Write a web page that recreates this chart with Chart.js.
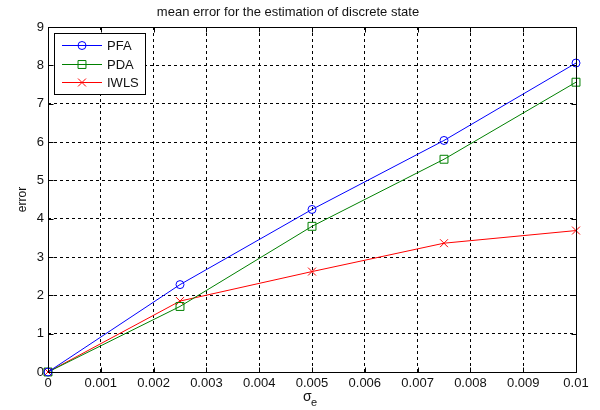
<!DOCTYPE html>
<html>
<head>
<meta charset="utf-8">
<script src="https://cdn.jsdelivr.net/npm/chart.js@4/dist/chart.umd.min.js"></script>
<style>
  html, body { margin: 0; padding: 0; background: #fff; }
</style>
</head>
<body>
<canvas id="c" width="600" height="410"></canvas>
<script>
// valores
const sigmaE = [0, 0.0025, 0.005, 0.0075, 0.01];
const pfa = [0, 2.28, 4.24, 6.04, 8.06];
const pda = [0, 1.71, 3.8, 5.55, 7.56];
const iwls = [0, 1.85, 2.62, 3.36, 3.69];

const xTicks = [0, 0.001, 0.002, 0.003, 0.004, 0.005, 0.006, 0.007, 0.008, 0.009, 0.01];
const yTicks = [0, 1, 2, 3, 4, 5, 6, 7, 8, 9];

const FONT = "'Liberation Sans', Arial, sans-serif";

function toPoints(ys) {
  return sigmaE.map((x, i) => ({ x: x, y: ys[i] }));
}

function series(label, ys, color, style, radius) {
  return {
    label: label,
    data: toPoints(ys),
    borderColor: color,
    borderWidth: 1,
    pointStyle: style,
    pointRadius: radius,
    pointHoverRadius: radius,
    pointBorderColor: color,
    pointBackgroundColor: "rgba(0,0,0,0)",
    pointBorderWidth: 1,
    tension: 0,
    clip: false,
  };
}

// marco, marcas interiores, leyenda y etiqueta σe al estilo MATLAB
const matlabFrame = {
  id: "matlabFrame",
  afterDraw(chart) {
    const { ctx, chartArea: a, scales } = chart;
    const x = scales.x, y = scales.y;
    const L = Math.round(a.left) + 0.5, R = Math.round(a.right) + 0.5;
    const T = Math.round(a.top) + 0.5, B = Math.round(a.bottom) + 0.5;
    ctx.save();
    ctx.strokeStyle = "#000";
    ctx.lineWidth = 1;
    ctx.setLineDash([]);
    ctx.beginPath();
    xTicks.forEach((v) => {
      const p = Math.round(x.getPixelForValue(v)) + 0.5;
      ctx.moveTo(p, B); ctx.lineTo(p, B - 5);
      ctx.moveTo(p, T); ctx.lineTo(p, T + 5);
    });
    yTicks.forEach((v) => {
      const p = Math.round(y.getPixelForValue(v)) + 0.5;
      ctx.moveTo(L, p); ctx.lineTo(L + 5, p);
      ctx.moveTo(R, p); ctx.lineTo(R - 5, p);
    });
    ctx.stroke();
    ctx.strokeRect(L, T, R - L, B - T);

    // leyenda
    const bx = 54.5, by = 33.5, bw = 91, bh = 61;
    ctx.fillStyle = "#fff";
    ctx.fillRect(bx, by, bw, bh);
    ctx.strokeStyle = "#000";
    ctx.strokeRect(bx, by, bw, bh);
    const rows = [45.5, 64.5, 82.5];
    ctx.font = "13px " + FONT;
    ctx.textBaseline = "middle";
    ctx.textAlign = "left";
    chart.data.datasets.forEach((ds, i) => {
      const ry = rows[i];
      ctx.strokeStyle = ds.borderColor;
      ctx.beginPath();
      ctx.moveTo(62, ry); ctx.lineTo(102, ry);
      ctx.stroke();
      ctx.fillStyle = "rgba(0,0,0,0)";
      Chart.helpers.drawPoint(ctx, {
        pointStyle: ds.pointStyle, radius: ds.pointRadius, borderWidth: 1, rotation: 0,
      }, 82, ry);
      ctx.fillStyle = "#111";
      ctx.fillText(ds.label, 107, ry + 1);
    });

    // etiqueta del eje x: sigma con subíndice e
    ctx.fillStyle = "#111";
    ctx.font = "14px " + FONT;
    ctx.textBaseline = "alphabetic";
    ctx.fillText("σ", 303, 401);
    ctx.font = "11px " + FONT;
    ctx.fillText("e", 311, 406);
    ctx.restore();
  },
};

new Chart(document.getElementById("c"), {
  type: "line",
  data: {
    datasets: [
      series("PFA", pfa, "#0000ff", "circle", 4),
      series("PDA", pda, "#008000", "rect", 5.6),
      series("IWLS", iwls, "#ff0000", "crossRot", 5.6),
    ],
  },
  options: {
    responsive: false,
    animation: false,
    maintainAspectRatio: false,
    layout: { padding: { left: 0, right: 24, top: 0, bottom: 0 } },
    plugins: {
      legend: { display: false },
      tooltip: { enabled: false },
      title: {
        display: true,
        text: "mean error for the estimation of discrete state",
        color: "#111",
        font: { family: FONT, size: 13, weight: "normal", lineHeight: 1.0 },
        padding: { top: 6, bottom: 8 },
      },
    },
    scales: {
      x: {
        type: "linear",
        min: 0,
        max: 0.01,
        afterBuildTicks: (s) => { s.ticks = xTicks.map((v) => ({ value: v })); },
        afterFit: (s) => { s.height = 38; },
        ticks: {
          color: "#111",
          font: { family: FONT, size: 13 },
          padding: 4,
          maxRotation: 0,
          autoSkip: false,
          callback: (v) => String(Number(v.toFixed(3))),
        },
        grid: { color: "#000", lineWidth: 1, drawTicks: false },
        border: { display: false, dash: [3, 3] },
      },
      y: {
        min: 0,
        max: 9,
        afterBuildTicks: (s) => { s.ticks = yTicks.map((v) => ({ value: v })); },
        afterFit: (s) => { s.width = 48; },
        ticks: {
          color: "#111",
          font: { family: FONT, size: 13 },
          padding: 4,
          autoSkip: false,
        },
        grid: { color: "#000", lineWidth: 1, drawTicks: false },
        border: { display: false, dash: [3, 3] },
        title: {
          display: true,
          text: "error",
          color: "#111",
          font: { family: FONT, size: 12 },
          padding: { top: 15, bottom: 0 },
        },
      },
    },
  },
  plugins: [matlabFrame],
});
</script>
</body>
</html>
